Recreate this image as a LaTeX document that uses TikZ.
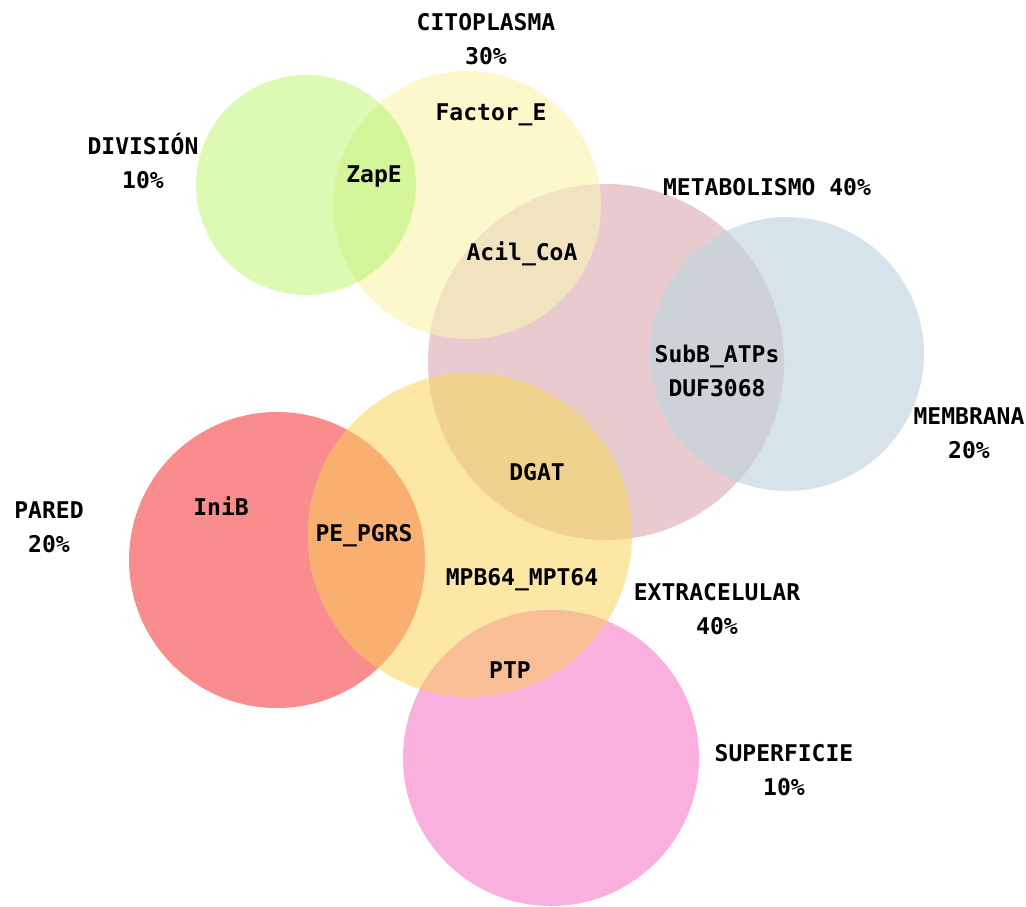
\documentclass[tikz,border=0pt]{standalone}
\usepackage{fontspec}
\setmonofont{DejaVu Sans Mono}
\usepackage{tikz}

\definecolor{division}{HTML}{DCFAB4}
\definecolor{citoplasma}{HTML}{FDF8CC}
\definecolor{metabolismo}{HTML}{E9CBCF}
\definecolor{membrana}{HTML}{D7E3EA}
\definecolor{pared}{HTML}{F98C8C}
\definecolor{extracelular}{HTML}{FDE7A5}
\definecolor{superficie}{HTML}{F9B0DE}
\definecolor{divcito}{HTML}{D5F59A}
\definecolor{citometa}{HTML}{F2E3C0}
\definecolor{metamemb}{HTML}{CDD2D9}
\definecolor{metaextra}{HTML}{F0D28F}
\definecolor{paredextra}{HTML}{F8AF70}
\definecolor{superextra}{HTML}{F8BE95}

\begin{document}
\begin{tikzpicture}[x=0.02cm,y=-0.02cm,
		lbl/.style={font=\ttfamily\bfseries\fontsize{13.1}{19.3}\selectfont, align=center, inner sep=0pt}]
			\useasboundingbox (0,0) rectangle (1026,906);
			\coordinate(D) at (306,185);
			\coordinate(C) at (467,205);
			\coordinate(M) at (606,362);
			\coordinate(B) at (787,354);
			\coordinate(P) at (277,560);
			\coordinate(E) at (470,535);
			\coordinate(S) at (551,758);
			
			\fill[division] (D) circle (110);
			\fill[citoplasma] (C) circle (134);
			\fill[metabolismo] (M) circle (178);
			\fill[membrana] (B) circle (137);
			\fill[pared] (P) circle (148);
			\fill[extracelular] (E) circle (162);
			\fill[superficie] (S) circle (148);
			
			\begin{scope}
				\clip (D) circle (110);
				\fill[divcito] (C) circle (134);
			\end{scope}
			\begin{scope}
				\clip (C) circle (134);
				\fill[citometa] (M) circle (178);
			\end{scope}
			\begin{scope}
				\clip (M) circle (178);
				\fill[metamemb] (B) circle (137);
			\end{scope}
			\begin{scope}
				\clip (M) circle (178);
				\fill[metaextra] (E) circle (162);
			\end{scope}
			\begin{scope}
				\clip (P) circle (148);
				\fill[paredextra] (E) circle (162);
			\end{scope}
			\begin{scope}
				\clip (S) circle (148);
				\fill[superextra] (E) circle (162);
			\end{scope}
			
			\node[lbl] (citoplasma) at (486,39) {CITOPLASMA\\30\%};
			\node[lbl] (division) at (143,161) {DIVISIÓN\\10\%};
			\node[lbl] (metabolismo) at (767,187) {METABOLISMO 40\%};
			\node[lbl] (membrana) at (969,433) {MEMBRANA\\20\%};
			\node[lbl] (pared) at (49,527) {PARED\\20\%};
			\node[lbl] (extracelular) at (717,609) {EXTRACELULAR\\40\%};
			\node[lbl] (superficie) at (784,770) {SUPERFICIE\\10\%};
			
			\node[lbl] (factor) at (491,115) {Factor\_E};
			\node[lbl] (zape) at (374,177) {ZapE};
			\node[lbl] (acil) at (522,254) {Acil\_CoA};
			\node[lbl] (subb) at (717,371) {SubB\_ATPs\\DUF3068};
			\node[lbl] (dgat) at (537,472) {DGAT};
			\node[lbl] (inib) at (221,506) {IniB};
			\node[lbl] (pepgrs) at (364,536) {PE\_PGRS};
			\node[lbl] (mpb) at (522,580) {MPB64\_MPT64};
			\node[lbl] (ptp) at (510,670) {PTP};
		\end{tikzpicture}
\end{document}
